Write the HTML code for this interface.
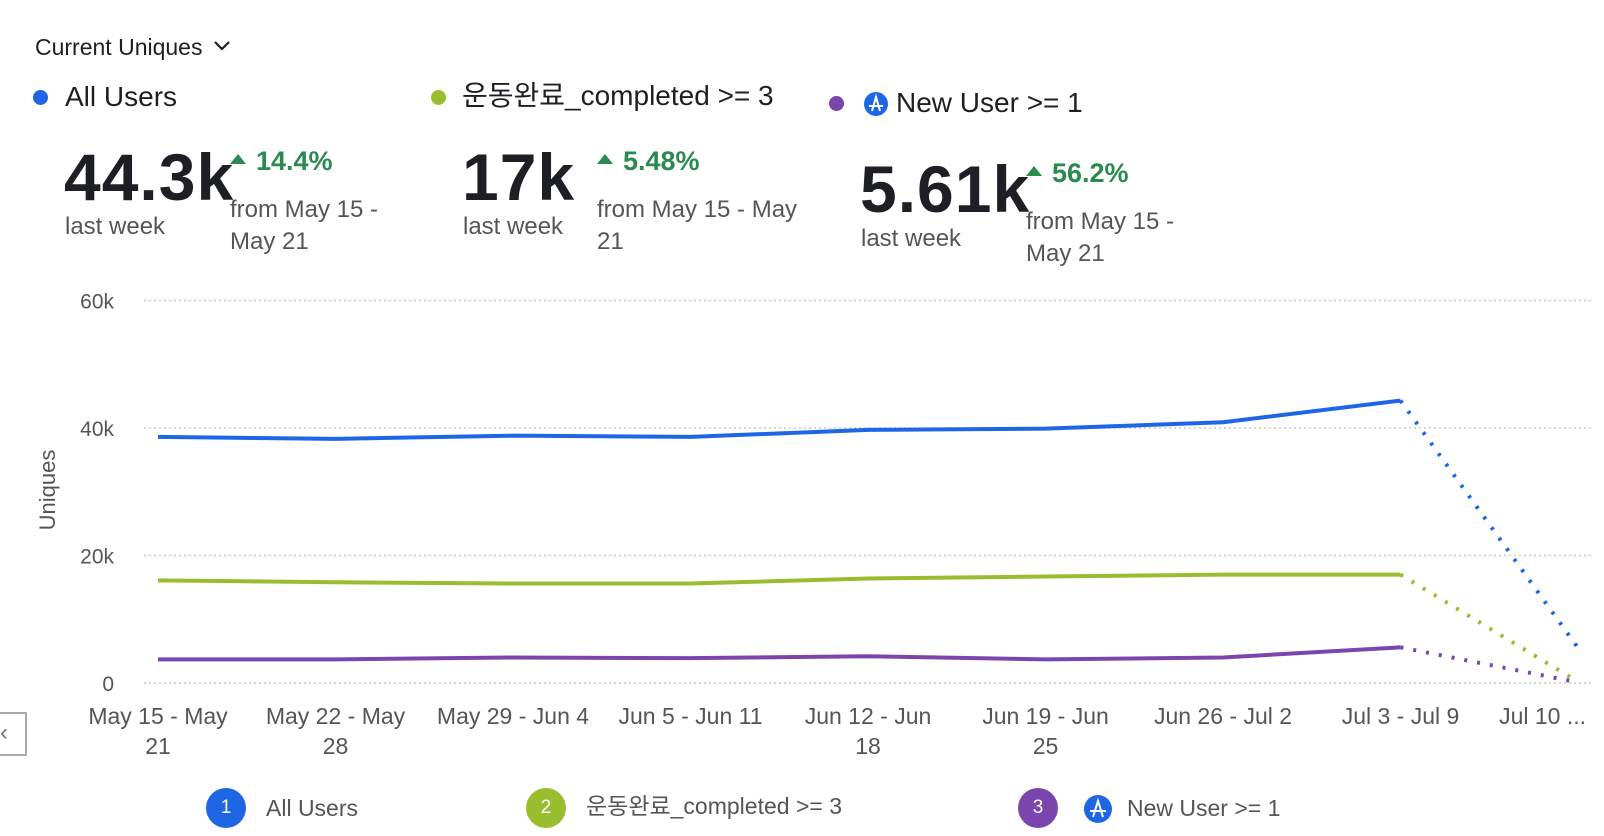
<!DOCTYPE html>
<html><head><meta charset="utf-8">
<style>
body{margin:0;width:1604px;height:836px;background:#fff;font-family:"Liberation Sans","Noto Sans CJK KR",sans-serif;position:relative;overflow:hidden;color:#1d1f24}
.a{position:absolute;white-space:nowrap}
.dot{position:absolute;width:15px;height:15px;border-radius:50%}
.big{font-size:66px;font-weight:bold;letter-spacing:1px}
.lw{font-size:24px;color:#555}
.pct{font-size:27px;color:#2a8a4f;font-weight:bold}
.from{font-size:24px;color:#555;line-height:32px}
.tri{display:inline-block;width:0;height:0;border-left:8px solid transparent;border-right:8px solid transparent;border-bottom:10px solid #2a8a4f;margin-right:10px;vertical-align:6px}
.ln{font-size:23px;color:#555;line-height:28px}
.num{position:absolute;width:40px;height:40px;border-radius:50%;color:#fff;font-size:19px;text-align:center;line-height:40px}
</style></head><body>
<div class="a" style="left:35px;top:34px;font-size:23px">Current Uniques <svg width="18" height="14" style="vertical-align:2px;margin-left:4px"><path d="M2 3 L9 10 L16 3" stroke="#1d1f24" stroke-width="2.2" fill="none"/></svg></div>

<div class="dot" style="left:33px;top:90px;background:#1f66e5"></div>
<div class="a" style="left:65px;top:81px;font-size:28px">All Users</div>
<div class="dot" style="left:431px;top:90px;background:#9abd2f"></div>
<div class="a" style="left:462px;top:79px;font-size:28px;line-height:34px">운동완료_completed &gt;= 3</div>
<div class="dot" style="left:829px;top:96px;background:#7a45ad"></div>
<svg class="a" style="left:864px;top:92px" width="24" height="24"><circle cx="12" cy="12" r="12" fill="#1f66e5"/><path d="M5 14 H19 M8 19 L12 5 L16 19" stroke="#fff" stroke-width="2" fill="none"/></svg>
<div class="a" style="left:896px;top:87px;font-size:28px">New User &gt;= 1</div>

<div class="a big" style="left:64px;top:139px">44.3k</div>
<div class="a lw" style="left:65px;top:213px">last week</div>
<div class="a pct" style="left:230px;top:146px"><span class="tri"></span>14.4%</div>
<div class="a from" style="left:230px;top:194px">from May 15 -<br>May 21</div>

<div class="a big" style="left:462px;top:139px">17k</div>
<div class="a lw" style="left:463px;top:213px">last week</div>
<div class="a pct" style="left:597px;top:146px"><span class="tri"></span>5.48%</div>
<div class="a from" style="left:597px;top:194px">from May 15 - May<br>21</div>

<div class="a big" style="left:860px;top:151px">5.61k</div>
<div class="a lw" style="left:861px;top:225px">last week</div>
<div class="a pct" style="left:1026px;top:158px"><span class="tri"></span>56.2%</div>
<div class="a from" style="left:1026px;top:206px">from May 15 -<br>May 21</div>

<div class="a" style="left:-2px;top:712px;width:25px;height:40px;border:2px solid #aaa;color:#777;font-size:24px;line-height:38px">&lsaquo;</div>

<svg id="chart" class="a" style="left:0;top:0" width="1604" height="836"></svg>

<div class="num" style="left:206px;top:788px;background:#1f66e5">1</div>
<div class="a ln" style="left:266px;top:794px">All Users</div>
<div class="num" style="left:526px;top:788px;background:#9abd2f">2</div>
<div class="a ln" style="left:586px;top:792px">운동완료_completed &gt;= 3</div>
<div class="num" style="left:1018px;top:788px;background:#7a45ad">3</div>
<svg class="a" style="left:1084px;top:795px" width="28" height="28"><circle cx="14" cy="14" r="14" fill="#1f66e5"/><path d="M6 16 H22 M9 22 L14 6 L19 22" stroke="#fff" stroke-width="2" fill="none"/></svg>
<div class="a ln" style="left:1127px;top:794px">New User &gt;= 1</div>

<script>
const categories=["May 15 - May|21","May 22 - May|28","May 29 - Jun 4","Jun 5 - Jun 11","Jun 12 - Jun|18","Jun 19 - Jun|25","Jun 26 - Jul 2","Jul 3 - Jul 9","Jul 10 ..."];
const allUsers=[38.6,38.3,38.8,38.6,39.7,39.9,40.9,44.3,5.5];
const completed=[16.1,15.8,15.6,15.6,16.4,16.7,17.0,17.0,0.2];
const newUser=[3.7,3.7,4.0,3.9,4.2,3.7,4.0,5.6,0.1];
const yTicks=[0,20,40,60];
const yTickLabels=["0","20k","40k","60k"];
const NS="http://www.w3.org/2000/svg";
const svg=document.getElementById('chart');
const x0=158,dx=177.5,yBase=683,yPer=127.5/20;
const X=i=>x0+i*dx, Y=v=>yBase-v*yPer;
function mk(t,a){const e=document.createElementNS(NS,t);for(const k in a)e.setAttribute(k,a[k]);svg.appendChild(e);return e;}
yTicks.forEach((t,i)=>{
 const g=mk('line',{x1:144,x2:1592,y1:Y(t),y2:Y(t),stroke:'#c8c8c8','stroke-width':1.5,'stroke-dasharray':'2 3'});
 
 
 const l=mk('text',{x:114,y:Y(t)+8,'text-anchor':'end','font-size':21,fill:'#555','font-family':'Liberation Sans'});
 l.textContent=yTickLabels[i];
 
 
});
const yt=mk('text',{x:0,y:0,transform:'translate(55,490) rotate(-90)','text-anchor':'middle','font-size':22,fill:'#555','font-family':'Liberation Sans'});
yt.textContent='Uniques';


categories.forEach((c,i)=>{
 const parts=c.split('|');
 const last=i===categories.length-1;
 parts.forEach((p,j)=>{
  const t=mk('text',{x:last?1586:X(i),y:724+j*30,'text-anchor':last?'end':'middle','font-size':23,fill:'#555','font-family':'Liberation Sans'});
  t.textContent=p;
  
  
 });
});
function series(vals,color,name){
 const n=vals.length;
 const solid=vals.slice(0,n-1).map((v,i)=>X(i)+','+Y(v)).join(' ');
 const p=mk('polyline',{points:solid,fill:'none',stroke:color,'stroke-width':4,'stroke-linejoin':'round'});
 
 
 const d=mk('line',{x1:X(n-2),y1:Y(vals[n-2]),x2:X(n-1),y2:Y(vals[n-1]),stroke:color,'stroke-width':4,'stroke-dasharray':'3 10'});
 
 
}
series(allUsers,'#1f66e5','all-users');
series(completed,'#9abd2f','completed');
series(newUser,'#7a45ad','new-user');
</script>
</body></html>
